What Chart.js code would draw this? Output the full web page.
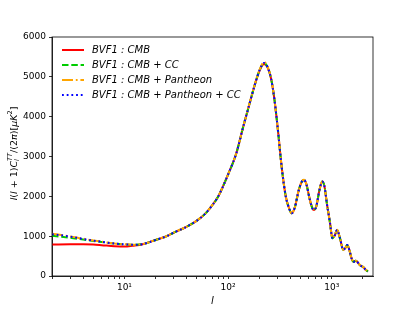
<!DOCTYPE html>
<html>
<head>
<meta charset="utf-8">
<script src="https://cdn.jsdelivr.net/npm/chart.js@4"></script>
<style>
  html, body { margin: 0; padding: 0; background: #fff; }
  #wrap { width: 415px; height: 311px; }
</style>
</head>
<body>
<div id="wrap"><canvas id="clChart" width="415" height="311"></canvas></div>
<script>
// multipole moments l
const ells = [2, 3, 4, 5, 6, 8, 10, 12, 15, 20, 25, 30, 40, 50, 60, 70, 80, 100, 120, 140, 160, 180, 200, 222, 240, 260, 280, 300, 330, 360, 390, 410, 440, 480, 520, 540, 570, 610, 650, 675, 710, 760, 810, 850, 900, 960, 1015, 1070, 1125, 1200, 1290, 1350, 1410, 1480, 1550, 1620, 1700, 1760, 1830, 1920, 2000, 2100, 2230];

// l(l+1)C_l/(2pi) for each run
const bvfCmb = [790, 795, 795, 790, 775, 748, 738, 760, 798, 905, 990, 1090, 1240, 1390, 1560, 1770, 1990, 2550, 3080, 3750, 4300, 4780, 5140, 5325, 5240, 4950, 4430, 3750, 2700, 2000, 1680, 1575, 1720, 2150, 2390, 2410, 2300, 1950, 1700, 1660, 1750, 2150, 2370, 2250, 1800, 1350, 950, 1020, 1156, 950, 660, 700, 780, 650, 450, 360, 380, 360, 300, 250, 230, 170, 110];
const bvfCmbCc = [1010, 960, 915, 880, 855, 815, 795, 785, 800, 905, 990, 1090, 1240, 1390, 1560, 1770, 1990, 2550, 3080, 3750, 4300, 4780, 5150, 5350, 5250, 4950, 4430, 3750, 2700, 2000, 1680, 1575, 1720, 2150, 2390, 2410, 2300, 1950, 1700, 1660, 1750, 2150, 2370, 2250, 1800, 1350, 950, 1020, 1156, 950, 660, 700, 780, 650, 450, 360, 380, 360, 300, 250, 230, 170, 110];
const bvfCmbPan = [1060, 995, 935, 893, 862, 818, 797, 787, 802, 907, 992, 1092, 1242, 1392, 1562, 1772, 1992, 2552, 3082, 3752, 4305, 4790, 5160, 5370, 5260, 4955, 4432, 3752, 2702, 2002, 1682, 1577, 1722, 2152, 2395, 2415, 2302, 1952, 1702, 1662, 1752, 2155, 2375, 2252, 1802, 1352, 952, 1022, 1158, 952, 662, 702, 782, 652, 452, 362, 382, 362, 302, 252, 232, 172, 112];
const bvfCmbPanCc = [1050, 990, 930, 890, 860, 816, 795, 785, 800, 905, 990, 1090, 1240, 1390, 1560, 1770, 1990, 2550, 3080, 3750, 4300, 4780, 5150, 5350, 5250, 4950, 4430, 3750, 2700, 2000, 1680, 1575, 1720, 2150, 2390, 2410, 2300, 1950, 1700, 1660, 1750, 2150, 2370, 2250, 1800, 1350, 950, 1020, 1156, 950, 660, 700, 780, 650, 450, 360, 380, 360, 300, 250, 230, 170, 110];

const seriesLabels = ['BVF1 : CMB', 'BVF1 : CMB + CC', 'BVF1 : CMB + Pantheon', 'BVF1 : CMB + Pantheon + CC'];
const yTicks = [0, 1000, 2000, 3000, 4000, 5000, 6000];
const xMajorTicks = [10, 100, 1000];
const xMajorLabels = ['10\u00b9', '10\u00b2', '10\u00b3'];

function toPoints(vals) {
  return ells.map((l, i) => ({ x: l, y: vals[i] }));
}

// box around the plot + legend + y label with sub/superscripts
const decorPlugin = {
  id: 'decor',
  afterDraw(chart) {
    const ctx = chart.ctx;
    const a = chart.chartArea;
    ctx.save();
    ctx.strokeStyle = '#000';
    ctx.lineWidth = 0.8;
    ctx.strokeRect(a.left, a.top, a.right - a.left, a.bottom - a.top);

    // legend
    const ds = chart.data.datasets;
    ctx.font = 'italic 10px "DejaVu Sans"';
    ctx.textBaseline = 'middle';
    ds.forEach((d, i) => {
      const y = a.top + 13 + i * 15;
      ctx.beginPath();
      ctx.setLineDash(d.borderDash || []);
      ctx.strokeStyle = d.borderColor;
      ctx.lineWidth = d.borderWidth;
      ctx.moveTo(a.left + 10, y);
      ctx.lineTo(a.left + 32, y);
      ctx.stroke();
      ctx.setLineDash([]);
      ctx.fillStyle = '#000';
      ctx.fillText(d.label, a.left + 40, y);
    });

    // y axis title
    const big = 9.5, small = 6.6;
    const parts = [
      { t: 'l', f: 'italic ' + big + 'px "DejaVu Sans"', dy: 0 },
      { t: '(', f: big + 'px "DejaVu Sans"', dy: 0 },
      { t: 'l', f: 'italic ' + big + 'px "DejaVu Sans"', dy: 0 },
      { t: ' + 1)', f: big + 'px "DejaVu Sans"', dy: 0 },
      { t: 'C', f: 'italic ' + big + 'px "DejaVu Sans"', dy: 0 },
      { t: 'l', f: 'italic ' + small + 'px "DejaVu Sans"', dy: 2.5, stack: true },
      { t: 'TT', f: 'italic ' + small + 'px "DejaVu Sans"', dy: -4.3 },
      { t: '/(2', f: big + 'px "DejaVu Sans"', dy: 0 },
      { t: '\u03c0', f: 'italic ' + big + 'px "DejaVu Sans"', dy: 0 },
      { t: ')[', f: big + 'px "DejaVu Sans"', dy: 0 },
      { t: '\u03bcK', f: 'italic ' + big + 'px "DejaVu Sans"', dy: 0 },
      { t: '2', f: small + 'px "DejaVu Sans"', dy: -4.3 },
      { t: ']', f: big + 'px "DejaVu Sans"', dy: 0 }
    ];
    let total = 0;
    parts.forEach(p => {
      ctx.font = p.f;
      p.w = ctx.measureText(p.t).width;
      if (!p.stack) total += p.w;
    });
    ctx.translate(13, (a.top + a.bottom) / 2 - 3);
    ctx.rotate(-Math.PI / 2);
    ctx.fillStyle = '#000';
    ctx.textBaseline = 'alphabetic';
    let x = -total / 2;
    parts.forEach(p => {
      ctx.font = p.f;
      ctx.fillText(p.t, x, 3.5 + p.dy);
      if (!p.stack) x += p.w;
    });
    ctx.restore();
  }
};

const ctx = document.getElementById('clChart').getContext('2d');
const clChart = new Chart(ctx, {
  type: 'line',
  data: {
    datasets: [
      { label: seriesLabels[0], data: toPoints(bvfCmb), borderColor: '#ff0000', borderWidth: 2, borderDash: [], order: 3 },
      { label: seriesLabels[1], data: toPoints(bvfCmbCc), borderColor: '#00cc00', borderWidth: 2, borderDash: [6.5, 2.8], order: 2 },
      { label: seriesLabels[2], data: toPoints(bvfCmbPan), borderColor: '#ffa500', borderWidth: 2, borderDash: [11, 2.8, 1.8, 2.8], order: 1 },
      { label: seriesLabels[3], data: toPoints(bvfCmbPanCc), borderColor: '#0000ff', borderWidth: 2, borderDash: [1.8, 2.9], order: 0 }
    ]
  },
  options: {
    responsive: false,
    animation: false,
    cubicInterpolationMode: 'monotone',
    elements: { point: { radius: 0 }, line: { fill: false } },
    layout: { padding: { left: 0, top: 37, right: 42, bottom: 0 } },
    plugins: { legend: { display: false }, tooltip: { enabled: false } },
    scales: {
      x: {
        type: 'logarithmic',
        min: 2,
        max: 2500,
        afterFit(scale) { scale.height = 35; },
        afterBuildTicks(scale) {
          const t = [];
          [1, 10, 100, 1000].forEach(dec => {
            for (let m = 1; m <= 9; m++) {
              const v = m * dec;
              if (v >= 2 && v <= 2500) t.push({ value: v });
            }
          });
          scale.ticks = t;
        },
        grid: { display: true, drawOnChartArea: false, tickLength: 3, tickColor: '#000', tickWidth: 0.8 },
        border: { display: true, color: '#000', width: 0.8 },
        ticks: {
          autoSkip: false,
          maxRotation: 0,
          padding: 3,
          color: '#000',
          font: { family: 'DejaVu Sans', size: 9 },
          callback(v) {
            const i = xMajorTicks.indexOf(v);
            return i >= 0 ? xMajorLabels[i] : '';
          }
        },
        title: { display: true, text: 'l', color: '#000', font: { family: 'DejaVu Sans', size: 10, style: 'italic' }, padding: { top: 2, bottom: 4 } }
      },
      y: {
        min: 0,
        max: 6000,
        afterFit(scale) { scale.width = 52; },
        afterBuildTicks(scale) { scale.ticks = yTicks.map(v => ({ value: v })); },
        grid: { display: true, drawOnChartArea: false, tickLength: 3, tickColor: '#000', tickWidth: 0.8 },
        border: { display: true, color: '#000', width: 0.8 },
        ticks: { padding: 3, color: '#000', font: { family: 'DejaVu Sans', size: 9 }, callback: v => String(v) }
      }
    }
  },
  plugins: [decorPlugin]
});
</script>
</body>
</html>
